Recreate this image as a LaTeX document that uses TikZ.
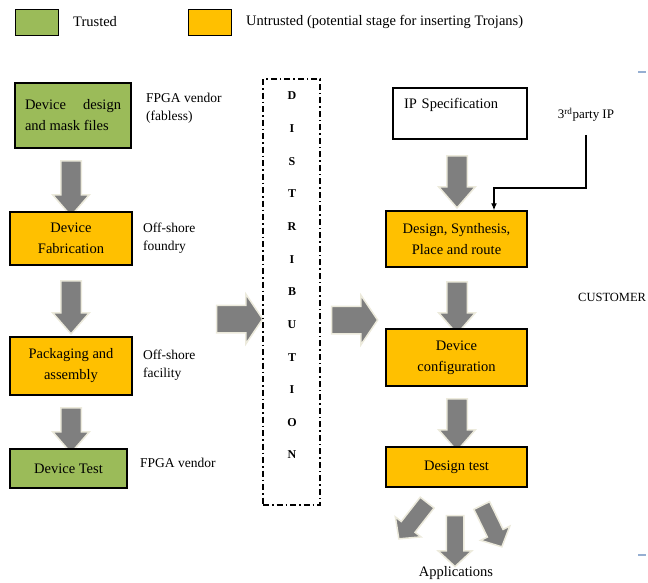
\documentclass[tikz,border=0pt]{standalone}
\usepackage{fontspec}
\setmainfont{Liberation Serif}
\usetikzlibrary{shapes.arrows,arrows.meta}

\definecolor{trustgreen}{RGB}{155,187,89}
\definecolor{untrustorange}{RGB}{255,192,0}
\definecolor{arrowgray}{RGB}{127,127,127}
\definecolor{glowcream}{RGB}{236,234,220}
\definecolor{tickblue}{RGB}{150,175,210}

\tikzset{
  stage/.style={draw=black, line width=1.4pt, text=black, align=center, inner sep=2pt,
    font=\fontsize{14.5}{21}\selectfont},
  trusted/.style={stage, fill=trustgreen},
  untrusted/.style={stage, fill=untrustorange},
  note/.style={anchor=west, align=left, inner sep=0pt, font=\fontsize{13.5}{18}\selectfont},
  bigarrow/.style={single arrow, fill=arrowgray, draw=glowcream, line width=1.5pt,
    inner xsep=0pt},
  downarrow/.style={bigarrow, rotate=-90, inner ysep=9.5pt, single arrow head extend=8pt,
    single arrow tip angle=82, minimum height=#1},
  sidearrow/.style={bigarrow, inner ysep=13pt, single arrow head extend=11pt,
    single arrow tip angle=112, minimum height=46pt},
  apparrow/.style={bigarrow, rotate=#1, inner ysep=8pt, single arrow head extend=7.5pt,
    single arrow tip angle=94, minimum height=46pt},
  distletter/.style={font=\fontsize{12}{12}\selectfont\bfseries, inner sep=0pt}
}

\begin{document}
\begin{tikzpicture}[x=1pt,y=-1pt]

    \useasboundingbox (0,0) rectangle (648,582);

    % legend
    \node[trusted, line width=1pt, minimum width=43pt, minimum height=26pt] (keytrusted) at (36.5,22) {};
    \node[note, font=\fontsize{14.5}{18}\selectfont] (keytrustedtext) at (73,22) {Trusted};
    \node[untrusted, line width=1pt, minimum width=43pt, minimum height=26pt] (keyuntrusted) at (209.5,22) {};
    \node[note, font=\fontsize{14.5}{18}\selectfont] (keyuntrustedtext) at (246,22) {Untrusted (potential stage for inserting Trojans)};

    % FPGA vendor side
    \node[trusted, minimum width=116pt, minimum height=65pt, align=left] (design) at (73,115.5)
        {\makebox[96pt][s]{Device design}\\and mask files};
    \node[note] (designnote) at (146,108) {FPGA vendor\\(fabless)};
    \node[downarrow=55pt] (arrdesign) at (71,182.5) {};

    \node[untrusted, minimum width=122pt, minimum height=53pt] (fab) at (71,238.5) {Device\\Fabrication};
    \node[note] (fabnote) at (143,238) {Off-shore\\foundry};
    \node[downarrow=53pt] (arrfab) at (71,301.5) {};

    \node[untrusted, minimum width=122pt, minimum height=58pt] (pack) at (71,366) {Packaging and\\assembly};
    \node[note] (packnote) at (143,365) {Off-shore\\facility};
    \node[downarrow=45pt] (arrpack) at (71,424.5) {};

    \node[trusted, minimum width=117pt, minimum height=39pt] (devtest) at (68.5,468.5) {Device Test};
    \node[note] (devtestnote) at (140,463) {FPGA vendor};

    % distribution
    \node[sidearrow] (arrin) at (235,319) {};
    \node[draw, line width=1.3pt, dash pattern=on 6pt off 3pt on 1.5pt off 3pt,
          minimum width=57pt, minimum height=426pt, inner sep=0pt] (dist) at (291.5,292) {};
    \foreach \l [count=\i from 0] in {D,I,S,T,R,I,B,U,T,I,O,N}
        \node[distletter] (letter\i) at (292,96+32.64*\i) {\l};
    \node[sidearrow] (arrout) at (350,320) {};

    % customer side
    \node[draw=black, line width=1.4pt, minimum width=134pt, minimum height=51pt, inner xsep=11pt,
          text width=112pt, align=left, text height=20pt, text depth=31pt, inner ysep=0pt,
          font=\fontsize{14.5}{21}\selectfont] (ipspec) at (460,113.5) {IP Specification};
    \node[font=\fontsize{13}{14}\selectfont, inner sep=1pt] (thirdip) at (586,115) {3\textsuperscript{rd}party IP};
    \node[downarrow=52pt] (arrip) at (457,176) {};

    \node[untrusted, minimum width=141pt, minimum height=56pt] (pnr) at (456.5,239) {Design, Synthesis,\\Place and route};
    \draw[line width=1.3pt, -{Latex[length=7pt,width=6pt]}] ([yshift=-12pt]thirdip.south) -- ++(0,53) -| ([xshift=37.5pt]pnr.north);
    \node[downarrow=52pt] (arrpnr) at (457,302) {};

    \node[note, font=\fontsize{12.5}{14}\selectfont] (customer) at (578,297) {CUSTOMER};

    \node[untrusted, minimum width=141pt, minimum height=57pt] (config) at (456.5,357.5) {Device\\configuration};
    \node[downarrow=52pt] (arrconfig) at (457,419) {};

    \node[untrusted, minimum width=141pt, minimum height=40pt] (dtest) at (456.5,467) {Design test};

    \node[apparrow=-128] (appleft) at (415.5,517.5) {};
    \node[bigarrow, rotate=-90, inner ysep=8pt, single arrow head extend=8pt, single arrow tip angle=94,
          minimum height=51pt] (appmid) at (455,537) {};
    \node[apparrow=-64] (appright) at (490,522.5) {};
    \node[font=\fontsize{14.5}{18}\selectfont, inner sep=0pt] (apps) at (456,573) {Applications};

    % margin ticks
    \draw[tickblue, line width=1.5pt] (638,72) -- (646,72);
    \draw[tickblue, line width=1.5pt] (638,555) -- (646,555);

\end{tikzpicture}
\end{document}
